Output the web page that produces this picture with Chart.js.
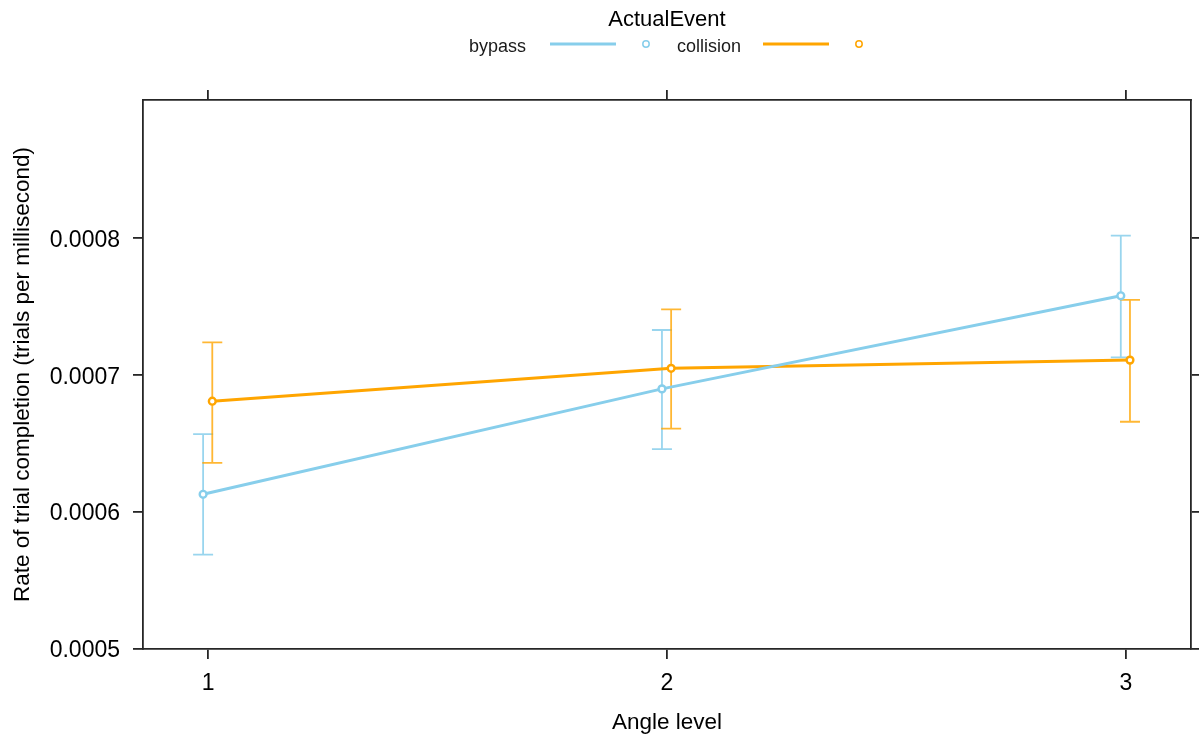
<!DOCTYPE html>
<html>
<head>
<meta charset="utf-8">
<script src="https://cdn.jsdelivr.net/npm/chart.js@4.4.1/dist/chart.umd.min.js"></script>
<style>
  html, body { margin: 0; padding: 0; background: #ffffff; }
  #wrap { width: 1199px; height: 736px; }
</style>
</head>
<body>
<div id="wrap"><canvas id="c" width="1199" height="736"></canvas></div>
<script>
// Angle levels and fitted completion rates with their confidence limits
const angleLevels = [1, 2, 3];
const angleLabels = ['1', '2', '3'];

const bypassFit   = [0.000613, 0.000690, 0.000758];
const bypassLower = [0.000569, 0.000646, 0.000713];
const bypassUpper = [0.000657, 0.000733, 0.000802];

const collisionFit   = [0.000681, 0.000705, 0.000711];
const collisionLower = [0.000636, 0.000661, 0.000666];
const collisionUpper = [0.000724, 0.000748, 0.000755];

const yTicks = [0.0005, 0.0006, 0.0007, 0.0008];
const yTickLabels = ['0.0005', '0.0006', '0.0007', '0.0008'];

const seriesNames = ['bypass', 'collision'];
const legendTitle = 'ActualEvent';

// Styling
const FONT = '"Liberation Sans", Arial, sans-serif';
const BLUE = '#87CEEB';
const ORANGE = '#FFA500';
const BLUE_BAR = 'rgba(135,206,235,0.85)';
const ORANGE_BAR = 'rgba(255,165,0,0.8)';
const FRAME = '#262626';
const DODGE = [-0.011, 0.009];

function toPoints(values, dodge) {
  return angleLevels.map((lvl, i) => ({ x: lvl + dodge, y: values[i] }));
}

const series = [
  { name: seriesNames[0], fit: bypassFit, lo: bypassLower, hi: bypassUpper, color: BLUE, bar: BLUE_BAR, dodge: DODGE[0] },
  { name: seriesNames[1], fit: collisionFit, lo: collisionLower, hi: collisionUpper, color: ORANGE, bar: ORANGE_BAR, dodge: DODGE[1] }
];

// Vertical confidence bars with caps, placed through the chart's scales
const errorBars = {
  id: 'errorBars',
  beforeDatasetsDraw(chart) {
    const ctx = chart.ctx;
    const xs = chart.scales.x, ys = chart.scales.y;
    ctx.save();
    series.forEach(s => {
      ctx.strokeStyle = s.bar;
      ctx.lineWidth = 1.8;
      angleLevels.forEach((lvl, i) => {
        const px = xs.getPixelForValue(lvl + s.dodge);
        const pLo = ys.getPixelForValue(s.lo[i]);
        const pHi = ys.getPixelForValue(s.hi[i]);
        ctx.beginPath();
        ctx.moveTo(px, pLo); ctx.lineTo(px, pHi);
        ctx.moveTo(px - 10, pLo); ctx.lineTo(px + 10, pLo);
        ctx.moveTo(px - 10, pHi); ctx.lineTo(px + 10, pHi);
        ctx.stroke();
      });
    });
    ctx.restore();
  }
};

// Key above the panel: title, then label / line / symbol for each group
const topKey = {
  id: 'topKey',
  afterDraw(chart) {
    const ctx = chart.ctx;
    const area = chart.chartArea;
    const cx = (area.left + area.right) / 2;
    ctx.save();
    ctx.fillStyle = '#000';
    ctx.font = '22px ' + FONT;
    ctx.textAlign = 'center';
    ctx.textBaseline = 'middle';
    ctx.fillText(legendTitle, cx, 20);

    const itemY = 47;
    const startX = [469, 677];
    ctx.font = '18px ' + FONT;
    ctx.textAlign = 'left';
    series.forEach((s, k) => {
      const x0 = startX[k];
      ctx.fillStyle = '#1a1a1a';
      ctx.fillText(s.name, x0, itemY);
      const lineStart = x0 + (k === 0 ? 81 : 86);
      ctx.strokeStyle = s.color;
      ctx.lineWidth = 3;
      ctx.beginPath();
      ctx.moveTo(lineStart, itemY - 3);
      ctx.lineTo(lineStart + 66, itemY - 3);
      ctx.stroke();
      ctx.lineWidth = 1.5;
      ctx.beginPath();
      ctx.arc(lineStart + 96, itemY - 3, 3.2, 0, Math.PI * 2);
      ctx.stroke();
    });
    ctx.restore();
  }
};

const tickFixed = values => function (scale) {
  scale.ticks = values.map(v => ({ value: v }));
};

const frameGrid = {
  drawOnChartArea: false,
  drawTicks: true,
  tickLength: 10,
  color: FRAME,
  tickColor: FRAME,
  lineWidth: 1.8,
  tickWidth: 1.8
};
const frameBorder = { display: true, color: FRAME, width: 1.8 };

new Chart(document.getElementById('c'), {
  type: 'line',
  data: {
    datasets: series.map(s => ({
      label: s.name,
      data: toPoints(s.fit, s.dodge),
      borderColor: s.color,
      backgroundColor: s.color,
      borderWidth: 3,
      pointRadius: 3.4,
      pointBorderWidth: 2.4,
      pointBackgroundColor: '#ffffff',
      pointBorderColor: s.color,
      tension: 0,
      fill: false
    }))
  },
  options: {
    responsive: false,
    animation: false,
    events: [],
    layout: { padding: 0 },
    plugins: {
      legend: { display: false },
      tooltip: { enabled: false },
      title: { display: false }
    },
    scales: {
      x: {
        type: 'linear',
        position: 'bottom',
        min: 0.858, max: 3.142,
        afterBuildTicks: tickFixed(angleLevels),
        afterFit(scale) { scale.height = 87; },
        grid: frameGrid,
        border: frameBorder,
        ticks: {
          color: '#000',
          font: { family: FONT, size: 23 },
          padding: 11,
          maxRotation: 0,
          callback: (v) => { const i = angleLevels.indexOf(v); return i >= 0 ? angleLabels[i] : ''; }
        },
        title: {
          display: true,
          text: 'Angle level',
          color: '#000',
          font: { family: FONT, size: 22.5 },
          padding: { top: 0, bottom: 0 }
        }
      },
      xTop: {
        type: 'linear',
        position: 'top',
        min: 0.858, max: 3.142,
        afterBuildTicks: tickFixed(angleLevels),
        afterFit(scale) { scale.height = 100; },
        grid: frameGrid,
        border: frameBorder,
        ticks: { display: false }
      },
      y: {
        type: 'linear',
        position: 'left',
        min: 0.0005, max: 0.000901,
        afterBuildTicks: tickFixed(yTicks),
        afterFit(scale) { scale.width = 143; },
        grid: frameGrid,
        border: frameBorder,
        ticks: {
          color: '#000',
          font: { family: FONT, size: 23 },
          padding: 13,
          labelOffset: 2,
          callback: (v) => {
            const i = yTicks.findIndex(t => Math.abs(t - v) < 1e-9);
            return i >= 0 ? yTickLabels[i] : '';
          }
        },
        title: {
          display: true,
          text: 'Rate of trial completion (trials per millisecond)',
          color: '#000',
          font: { family: FONT, size: 22.5 },
          padding: { top: 9, bottom: 0 }
        }
      },
      yRight: {
        type: 'linear',
        position: 'right',
        min: 0.0005, max: 0.000901,
        afterBuildTicks: tickFixed(yTicks),
        afterFit(scale) { scale.width = 8; },
        grid: frameGrid,
        border: frameBorder,
        ticks: { display: false }
      }
    }
  },
  plugins: [errorBars, topKey]
});
</script>
</body>
</html>
